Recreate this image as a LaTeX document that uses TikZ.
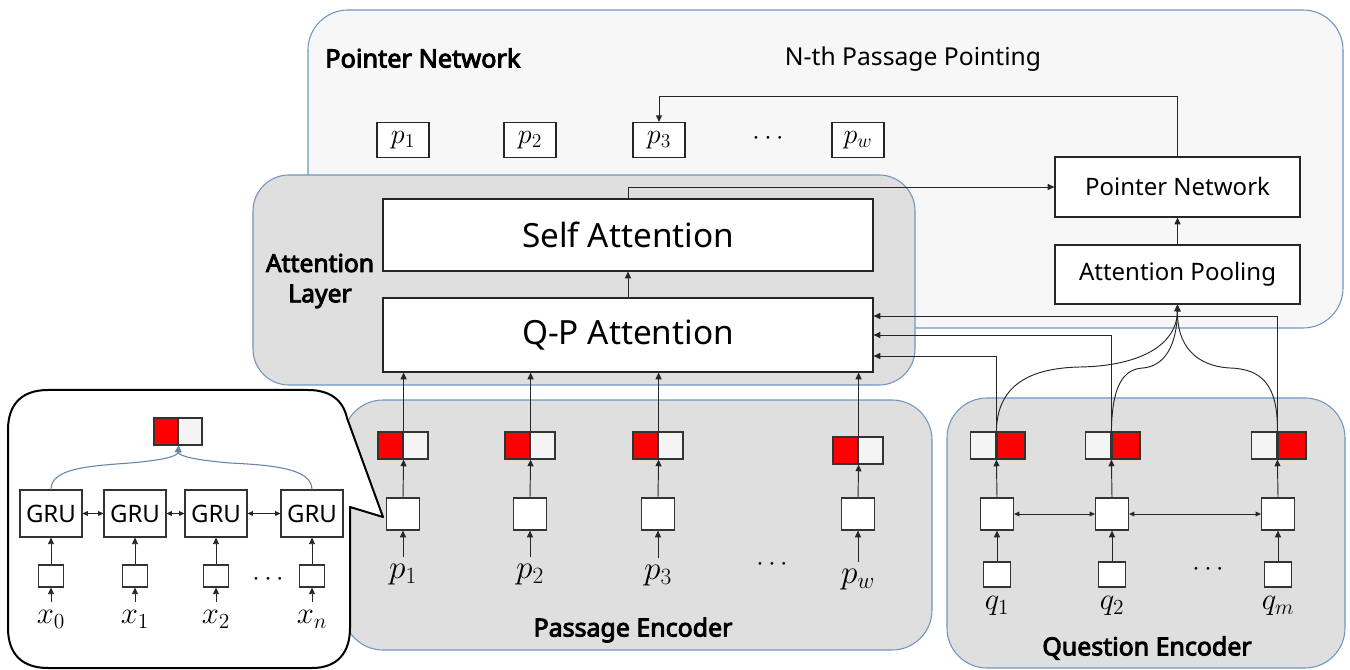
\RequirePackage{fix-cm}
\documentclass[tikz,border=0pt]{standalone}
\usepackage{fontspec}
\setmainfont{Noto Sans}[AutoFakeBold=3.6]
\usetikzlibrary{arrows.meta,fit,calc}
\definecolor{frameblue}{RGB}{112,150,192}
\definecolor{palefill}{RGB}{247,247,247}
\definecolor{greyfill}{RGB}{223,223,223}
\definecolor{cellgrey}{RGB}{244,244,244}
\definecolor{gruline}{RGB}{100,132,170}
\newcommand{\fs}[1]{\fontsize{#1}{1.2\dimexpr #1pt\relax}\selectfont}
\begin{document}
\begin{tikzpicture}[x=0.75pt,y=-0.75pt,
  region/.style={draw=frameblue,line width=0.8pt,rounded corners=30pt},
  blockbox/.style={draw=black!85,fill=white,line width=0.9pt,inner sep=0pt},
  hsq/.style={draw=black!80,fill=white,line width=0.9pt,inner sep=0pt,minimum width=24.75pt,minimum height=24pt},
  qin/.style={draw=black!80,fill=white,line width=0.8pt,inner sep=0pt,minimum width=20.25pt,minimum height=18.75pt},
  xin/.style={draw=black!80,fill=white,line width=0.8pt,inner sep=0pt,minimum width=18.75pt,minimum height=16.5pt},
  redhalf/.style={draw=black!80,fill=red,line width=0.9pt,inner sep=0pt,minimum width=18.75pt,minimum height=20.25pt},
  greyhalf/.style={redhalf,fill=cellgrey},
  grubox/.style={draw=black!80,fill=white,line width=0.8pt,inner sep=0pt,minimum width=46.5pt,minimum height=35.25pt,font=\fs{18}},
  topp/.style={draw=black!85,fill=white,line width=0.8pt,inner sep=0pt,minimum width=39pt,minimum height=26.25pt,font=\fs{21}},
  arr/.style={-{Triangle[length=5pt,width=4.5pt]},line width=0.7pt,draw=black!85},
  darr/.style={{Triangle[length=4pt,width=3.6pt]}-{Triangle[length=4pt,width=3.6pt]},line width=0.7pt,draw=black!85},
  plabel/.style={anchor=north,inner xsep=1pt,inner ysep=5pt,font=\fs{25}},
  regtitle/.style={font=\bfseries\fs{18.7}}
]
% canvas
\fill[white] (0,0) rectangle (1350,670);
\useasboundingbox (0,0) rectangle (1350,670);

% ---------- region frames ----------
\filldraw[region,fill=palefill] (308,10) rectangle (1343,328);
\filldraw[region,fill=greyfill,rounded corners=27pt] (253,175) rectangle (915,385);
\filldraw[region,fill=greyfill] (343,400) rectangle (932,650);
\filldraw[region,fill=greyfill] (947,398) rectangle (1345,668);

% ---------- pointer network ----------
\node[font=\bfseries\fs{19},anchor=west,inner sep=0pt] (pntitle) at (325,58) {Pointer Network};
\node[font=\fs{18.5},inner sep=0pt] (nthtitle) at (913,59) {N-th Passage Pointing};

\node[topp] (tp1) at (403,140) {$p_1$};
\node[topp] (tp2) at (530,140) {$p_2$};
\node[topp] (tp3) at (659,140) {$p_3$};
\node[font=\fs{20},inner sep=0pt] (tdots) at (768,139) {$\cdots$};
\node[topp] (tpw) at (858,140) {$p_w$};

\node[blockbox,fit={(1055,157) (1300,217)}] (pn) {};
\node[font=\fs{18}] at (pn.center) {Pointer Network};
\node[blockbox,fit={(1055,245) (1300,304)}] (ap) {};
\node[font=\fs{18}] at (ap.center) {Attention Pooling};

\draw[arr] (ap.north) -- (pn.south);
\draw[arr] (pn.north) -- ++(0,-60) -| (tp3.north);

% ---------- attention layer ----------
\node[font=\bfseries\fs{18.5},align=center,inner sep=0pt] (altitle) at (320,281) {Attention\\[0.5pt]Layer};
\node[blockbox,fit={(383,199) (873,271)}] (sa) {};
\node[font=\fs{25}] at (sa.center) {Self Attention};
\node[blockbox,fit={(383,298) (873,372)}] (qp) {};
\node[font=\fs{25}] at (qp.center) {Q-P Attention};

\draw[arr] (qp.north) -- (sa.south);
\draw[arr] (sa.north) |- (pn.west);

% ---------- passage encoder ----------
\node[regtitle] (petitle) at (633,630) {Passage Encoder};
\foreach \i/\x/\cy/\ly/\lab in {1/403/445.5/557/p_1, 2/530/445.5/557/p_2, 3/658/445.5/558/p_3, w/858/450.5/562/p_w}{
  \node[redhalf] (pcr\i) at (\x-12.5,\cy) {};
  \node[greyhalf] (pcg\i) at (\x+12.5,\cy) {};
  \node[hsq] (ph\i) at (\x,514) {};
  \node[plabel] (pl\i) at (\x,\ly) {$\lab$};
  \draw[arr] (pl\i.north) -- (ph\i.south);
  \draw[arr] (ph\i.north) -- (pcr\i.south east);
  \draw[arr] (pcr\i.north east) -- (pcr\i.north east |- qp.south);
}
\node[font=\fs{20},inner sep=0pt] (pdots) at (772,565) {$\cdots$};

% ---------- question encoder ----------
\node[regtitle] (qetitle) at (1147,648) {Question Encoder};
\foreach \i/\x/\lab in {1/997/q_1, 2/1112/q_2, m/1278/q_m}{
  \node[greyhalf] (qcg\i) at (\x-14,445.5) {};
  \node[redhalf,minimum width=21pt] (qcr\i) at (\x+14,445.5) {};
  \node[hsq] (qh\i) at (\x,514) {};
  \node[qin] (qi\i) at (\x,574.5) {};
  \node[plabel,inner ysep=4pt,font=\fs{23}] (ql\i) at (\x,591) {$\lab$};
  \draw[arr] (qi\i.north) -- (qh\i.south);
  \draw[arr] (qh\i.north) -- (qcr\i.south west);
}
\node[font=\fs{20},inner sep=0pt] (qdots) at (1208,570) {$\cdots$};
\draw[darr] (qh1.east) -- (qh2.west);
\draw[darr] (qh2.east) -- (qhm.west);

% question states into Q-P attention
\draw[arr] (qcr1.north west) |- ($(qp.east)+(0,21)$);
\draw[arr] (qcr2.north west) |- (qp.east);
\draw[arr] (qcrm.north west) |- ($(qp.east)+(0,-19)$);

% question states into attention pooling
\draw[arr] (qcr1.north west) .. controls (997,385) and (1030,368) .. (1080,367) .. controls (1140,366) and (1177,345) .. (ap.south);
\draw[arr] (qcr2.north west) .. controls (1112,388) and (1122,369) .. (1143,368) .. controls (1165,366) and (1177,345) .. (ap.south);
\draw[arr] (qcrm.north west) .. controls (1278,385) and (1262,369) .. (1230,368) .. controls (1195,366) and (1177,345) .. (ap.south);

% ---------- GRU callout ----------
\draw[line width=1.5pt,fill=white,line join=round]
  (48,390) -- (308,390) .. controls (330,390) and (343,400) .. (347,418)
  -- (383,517) -- (350,507) -- (350,628)
  .. controls (350,652) and (338,668) .. (312,668) -- (48,668)
  .. controls (22,668) and (8,654) .. (8,628) -- (8,430)
  .. controls (8,404) and (22,390) .. (48,390) -- cycle;

\node[redhalf,minimum width=18pt] (gcr) at (166,431.5) {};
\node[greyhalf,minimum width=18pt] (gcg) at (190,431.5) {};
\foreach \i/\x/\lab in {1/51/x_0, 2/135/x_1, 3/216/x_2, 4/312/x_n}{
  \node[grubox] (g\i) at (\x,513.5) {GRU};
  \node[xin] (xi\i) at (\x,576) {};
  \node[plabel,inner ysep=6pt,font=\fs{23}] (xl\i) at (\x,602) {$\lab$};
  \draw[arr] (xl\i.north) -- (xi\i.south);
  \draw[arr] (xi\i.north) -- (g\i.south);
}
\node[font=\fs{20},inner sep=0pt] (xdots) at (268,580) {$\cdots$};
\draw[darr] (g1.east) -- (g2.west);
\draw[darr] (g2.east) -- (g3.west);
\draw[darr] (g3.east) -- (g4.west);
\draw[gruline,line width=0.8pt,-{Triangle[length=5pt,width=5pt]}] (g1.north) .. controls (51,468) and (90,466) .. (130,463) .. controls (165,460) and (178,456) .. (gcr.south east);
\draw[gruline,line width=0.8pt,-{Triangle[length=5pt,width=5pt]}] (g4.north) .. controls (312,468) and (270,465) .. (230,463) .. controls (195,460) and (178,456) .. (gcr.south east);
\end{tikzpicture}
\end{document}
